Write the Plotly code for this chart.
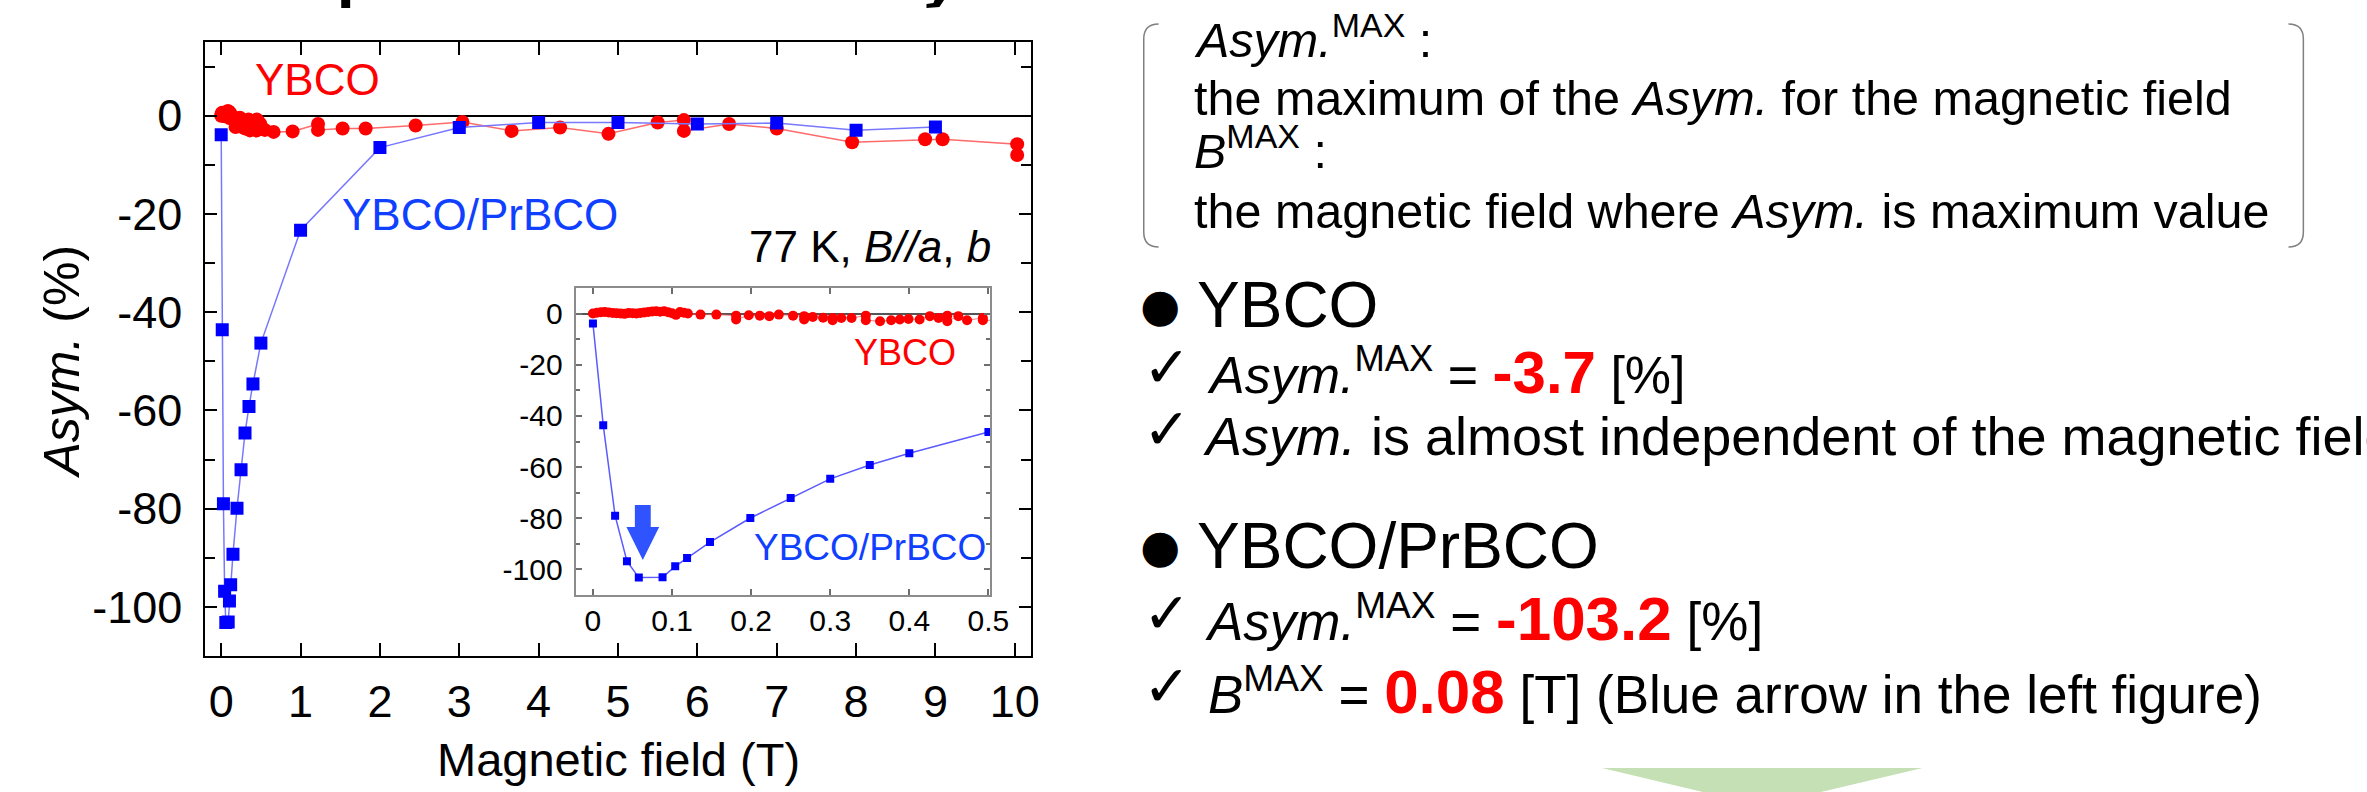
import plotly.graph_objects as go

W, H = 2367, 792

# ---------------- data ----------------
pb_field = [0, 0.013, 0.028, 0.043, 0.058, 0.088, 0.104, 0.119, 0.148, 0.199, 0.25, 0.3,
            0.35, 0.4, 0.5, 1, 2, 3, 4, 5, 6, 7, 8, 9]
pb_asym = [-3.9, -43.6, -79.0, -96.8, -103.2, -103.1, -98.8, -95.5, -89.3, -79.9, -72.1, -64.6,
           -59.2, -54.6, -46.3, -23.3, -6.5, -2.4, -1.4, -1.4, -1.7, -1.5, -2.95, -2.3]

ybco_field = [0.000, 0.005, 0.010, 0.015, 0.020, 0.025, 0.030, 0.035, 0.040, 0.045, 0.050, 0.055,
              0.060, 0.065, 0.070, 0.075, 0.080, 0.085, 0.090, 0.095, 0.100, 0.105, 0.110, 0.115,
              0.120, 0.136, 0.156, 0.181, 0.181, 0.197, 0.211, 0.223, 0.235, 0.253, 0.267, 0.267,
              0.278, 0.291, 0.303, 0.303, 0.314, 0.327, 0.345, 0.345, 0.363, 0.377, 0.388, 0.399,
              0.413, 0.426, 0.437, 0.448, 0.448, 0.462, 0.473, 0.493, 0.493, 0.55, 0.66, 0.9,
              1.22, 1.22, 1.53, 1.82, 2.45, 3.04, 3.66, 4.27, 4.88, 5.5, 5.83, 5.83, 6.4, 7.0,
              7.95, 8.87, 9.09, 10.03, 10.03]
ybco_asym = [0.0, 0.3, 0.5, 0.6, 0.4, 0.2, 0.1, 0.0, -0.1, 0.2, 0.1, 0.0,
             0.2, 0.4, 0.6, 0.8, 0.9, 0.7, 0.9, 0.5, 0.1, -0.5, 0.6, 0.3,
             0.0, -0.4, -0.4, -0.8, -2.3, -0.65, -0.8, -1.0, -0.4, -0.8, -1.0, -2.3,
             -1.3, -1.6, -1.7, -2.6, -1.7, -1.7, -0.8, -2.6, -3.0, -2.6, -2.3, -2.1,
             -2.3, -1.0, -1.7, -0.8, -3.0, -1.0, -2.6, -1.7, -2.6, -2.9, -3.3, -3.2,
             -1.7, -2.9, -2.6, -2.6, -2.0, -1.3, -3.1, -2.4, -3.7, -1.4, -0.9, -3.1, -1.7, -2.6,
             -5.4, -4.8, -4.8, -5.8, -8.0]

main_x_ticks = list(range(0, 11))
main_y_ticks = [0, -20, -40, -60, -80, -100]
main_y_labels = ["0", "-20", "-40", "-60", "-80", "-100"]
main_y_minor = [10, -10, -30, -50, -70, -90]
inset_x_ticks = [0, 0.1, 0.2, 0.3, 0.4, 0.5]
inset_x_labels = ["0", "0.1", "0.2", "0.3", "0.4", "0.5"]
inset_y_minor = [-10, -30, -50, -70, -90]

# ---------------- helpers ----------------
def px(x):
    return x / W


def py(y):
    return 1 - y / H


FONT = "Liberation Sans, Arial, sans-serif"
SYM = "DejaVu Sans, sans-serif"
RED = "#FF0000"
BLUE_TXT = "#1040FF"


def txt(x, base, text, size, color="black", anchor="left", maxsize=None, family=FONT):
    ms = maxsize or size
    return dict(xref="paper", yref="paper", x=px(x), y=py(base + 0.212 * ms + 1),
                xanchor=anchor, yanchor="bottom", text=text, showarrow=False,
                borderpad=0, font=dict(family=family, size=size, color=color))


def mid(x, y, text, size, color="black", family=SYM, anchor="center"):
    return dict(xref="paper", yref="paper", x=px(x), y=py(y), xanchor=anchor,
                yanchor="middle", text=text, showarrow=False, borderpad=0,
                font=dict(family=family, size=size, color=color))


fig = go.Figure()

# main plot
fig.add_trace(go.Scatter(x=ybco_field, y=ybco_asym, mode="lines+markers", xaxis="x", yaxis="y",
                         line=dict(color="rgba(255,90,90,0.9)", width=1.5),
                         marker=dict(color=RED, size=14, symbol="circle")))
fig.add_trace(go.Scatter(x=pb_field, y=pb_asym, mode="lines+markers", xaxis="x", yaxis="y",
                         line=dict(color="#7878FF", width=1.5),
                         marker=dict(color="#0000FF", size=13, symbol="square")))
# inset
fig.add_trace(go.Scatter(x=ybco_field, y=ybco_asym, mode="lines+markers", xaxis="x2", yaxis="y2",
                         line=dict(color="rgba(255,90,90,0.8)", width=1),
                         marker=dict(color=RED, size=10, symbol="circle")))
fig.add_trace(go.Scatter(x=pb_field, y=pb_asym, mode="lines+markers", xaxis="x2", yaxis="y2",
                         line=dict(color="#5A5AFF", width=1.5),
                         marker=dict(color="#0000FF", size=8, symbol="square")))

main_axis = dict(showline=True, linecolor="black", linewidth=2.2, mirror="allticks",
                 ticks="inside", tickcolor="black", tickwidth=2, showgrid=False,
                 tickfont=dict(family=FONT, size=45, color="black"))
inset_axis = dict(showline=True, linecolor="#8C8C8C", linewidth=1.5, mirror="allticks",
                  ticks="inside", tickcolor="#6E6E6E", tickwidth=1.5, ticklen=6, showgrid=False,
                  tickfont=dict(family=FONT, size=30, color="black"))

fig.update_layout(
    width=W, height=H, margin=dict(l=0, r=0, t=0, b=0),
    paper_bgcolor="white", plot_bgcolor="white", showlegend=False,
    xaxis=dict(domain=[px(207), px(1039)], range=[-0.2, 10.2], anchor="y",
               tickmode="array", tickvals=main_x_ticks, ticklen=13, zeroline=False,
               ticklabelstandoff=5, **main_axis),
    yaxis=dict(domain=[py(656), py(42)], range=[-110, 15], anchor="x",
               tickmode="array", tickvals=main_y_ticks, ticktext=main_y_labels, ticklen=12,
               minor=dict(tickmode="array", tickvals=main_y_minor, ticks="inside", ticklen=10,
                          tickwidth=2, tickcolor="black", showgrid=False),
               zeroline=True, zerolinecolor="black", zerolinewidth=2.2,
               ticklabelstandoff=12, **main_axis),
    xaxis2=dict(domain=[px(581), px(998)], range=[-0.021, 0.502], anchor="y2",
                tickmode="array", tickvals=inset_x_ticks, ticktext=inset_x_labels,
                zeroline=False, ticklabelstandoff=-2, **inset_axis),
    yaxis2=dict(domain=[py(595), py(288)], range=[-110, 10], anchor="x2",
                tickmode="array", tickvals=main_y_ticks, ticktext=main_y_labels,
                minor=dict(tickmode="array", tickvals=inset_y_minor, ticks="inside", ticklen=4,
                           tickwidth=1.5, tickcolor="#6E6E6E", showgrid=False),
                zeroline=True, zerolinecolor="#555555", zerolinewidth=1.5,
                ticklabelstandoff=6, **inset_axis),
)

ann = []
# plot labels
ann.append(txt(256, 95, "YBCO", 44, RED))
ann.append(txt(344, 230, "YBCO/PrBCO", 44, BLUE_TXT))
ann.append(txt(1000, 262, "77 K, <i>B//a</i>, <i>b</i>", 44, anchor="right"))
ann.append(txt(860, 365, "YBCO", 36, RED))
ann.append(txt(759, 560, "YBCO/PrBCO", 37, BLUE_TXT))
ann.append(txt(624, 776, "Magnetic field (T)", 47, anchor="center"))
ann.append(dict(xref="paper", yref="paper", x=px(63), y=py(361), xanchor="center",
                yanchor="middle", textangle=-90, text="<i>Asym.</i> (%)", showarrow=False,
                font=dict(family=FONT, size=50, color="black")))

# definition box text
BOX_F = 48.5
ann.append(txt(1203, 57, "<i>Asym.</i><sup>MAX</sup> :", BOX_F))
ann.append(txt(1203, 115, "the maximum of the <i>Asym.</i> for the magnetic field", BOX_F))
ann.append(txt(1203, 168, "<i>B</i><sup>MAX</sup> :", BOX_F))
ann.append(txt(1203, 228, "the magnetic field where <i>Asym.</i> is maximum value", BOX_F))

# bullets
ann.append(mid(1169, 305, "\u25cf", 46))
ann.append(txt(1206, 327, "YBCO", 64))
ann.append(mid(1169, 546, "\u25cf", 46))
ann.append(txt(1206, 568, "YBCO/PrBCO", 64))

# check marks
for base in (388, 450, 634, 707):
    ann.append(txt(1151, base, "\u2713", 57, family=SYM))


def red(v, s=60):
    return "<span style='color:#FF0000;font-size:%dpx'><b>%s</b></span>" % (s, v)


ann.append(txt(1216, 393, "<i>Asym.</i><sup>MAX</sup> = " + red("-3.7", 60) + " [%]", 52, maxsize=60))
ann.append(txt(1212, 455, "<i>Asym.</i> is almost independent of the magnetic field", 54))
ann.append(txt(1214, 640, "<i>Asym.</i><sup>MAX</sup> = " + red("-103.2", 62) + " [%]", 53, maxsize=62))
ann.append(txt(1217, 713, "<i>B</i><sup>MAX</sup> = " + red("0.08", 62) +
               " [T] (Blue arrow in the left figure)", 53, maxsize=62))

fig.update_layout(annotations=ann)


# ---------------- decorative shapes ----------------
def path(points, close=True):
    s = "M " + " L ".join("%f,%f" % (px(a), py(b)) for a, b in points)
    return s + (" Z" if close else "")


shapes = []
# blue arrow in inset
ax, top, hs, tip, sw, hw = 648, 505, 527, 560, 8, 16.5
shapes.append(dict(type="path", xref="paper", yref="paper", fillcolor="#2F54FF",
                   line=dict(width=0),
                   path=path([(ax - sw, top), (ax + sw, top), (ax + sw, hs), (ax + hw, hs),
                              (ax, tip), (ax - hw, hs), (ax - sw, hs)])))


def bracket(xe, xi, y0, y1, r=15):
    return ("M %f,%f Q %f,%f %f,%f L %f,%f Q %f,%f %f,%f" %
            (px(xi), py(y0), px(xe), py(y0), px(xe), py(y0 + r), px(xe), py(y1 - r),
             px(xe), py(y1), px(xi), py(y1)))


shapes.append(dict(type="path", xref="paper", yref="paper", line=dict(color="#808080", width=1.5),
                   path=bracket(1153, 1168, 24, 247)))
shapes.append(dict(type="path", xref="paper", yref="paper", line=dict(color="#808080", width=1.5),
                   path=bracket(2322, 2307, 24, 247)))
# green down arrow (bottom)
shapes.append(dict(type="path", xref="paper", yref="paper", fillcolor="#C5E0B4",
                   line=dict(width=0), path=path([(1615, 768), (1938, 768), (1776, 806)])))
# remnants of the cut-off title
shapes.append(dict(type="path", xref="paper", yref="paper", fillcolor="black", line=dict(width=0),
                   path=path([(344, -2), (353, -2), (353, 8), (344, 8)])))
shapes.append(dict(type="path", xref="paper", yref="paper", fillcolor="black", line=dict(width=0),
                   path=path([(943, -2), (953, -2), (947, 7), (934, 8), (934, 4), (941, 3)])))
fig.update_layout(shapes=shapes)

fig.write_html("out.html", config={"displayModeBar": False},
               post_script="document.body.style.margin='0';document.body.style.overflow='hidden';")
